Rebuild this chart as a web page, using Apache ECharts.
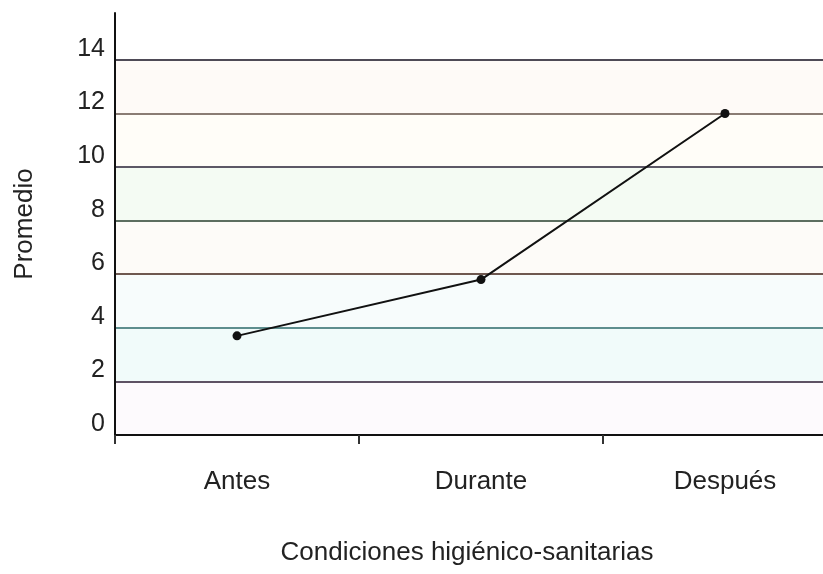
<!DOCTYPE html>
<html><head><meta charset="utf-8">
<script src="https://cdn.jsdelivr.net/npm/echarts@6/dist/echarts.min.js"></script>
<style>html,body{margin:0;padding:0;background:#fff}#c{width:823px;height:574px}</style>
</head><body><div id="c"></div>
<script>
const categories = ['Antes', 'Durante', 'Después'];
const promedio = [3.7, 5.8, 12.0];
const yTicks = [0, 2, 4, 6, 8, 10, 12, 14];
const xTitle = 'Condiciones higiénico-sanitarias';
const yTitle = 'Promedio';

const chart = echarts.init(document.getElementById('c'));
const font = 'Liberation Sans, Arial, sans-serif';
chart.setOption({
  backgroundColor: '#ffffff',
  animation: false,
  grid: { left: 115, width: 732, top: 13, bottom: 139, containLabel: false, outerBoundsMode: 'none' },
  xAxis: {
    type: 'category',
    data: categories,
    boundaryGap: true,
    name: xTitle,
    nameLocation: 'middle',
    nameGap: 105,
    nameTextStyle: { fontFamily: font, fontSize: 26, color: '#222', padding: [0, 28, 0, 0] },
    axisLine: { lineStyle: { color: '#111', width: 2 } },
    axisTick: { show: true, length: 9, lineStyle: { color: '#333', width: 2 } },
    axisLabel: { margin: 34, fontFamily: font, fontSize: 26, color: '#222' },
    splitLine: { show: false }
  },
  yAxis: {
    type: 'value',
    min: 0,
    max: 15.75,
    interval: 2,
    name: yTitle,
    nameLocation: 'middle',
    nameGap: 77,
    nameRotate: 90,
    nameTextStyle: { fontFamily: font, fontSize: 26, color: '#222' },
    axisLine: { show: true, lineStyle: { color: '#111', width: 2 } },
    axisTick: { show: false },
    axisLabel: {
      margin: 10, fontFamily: font, fontSize: 25, color: '#222',
      showMaxLabel: false,
      verticalAlign: 'bottom',
      lineHeight: 22,
      formatter: v => (yTicks.indexOf(v) >= 0 ? String(v) : '')
    },
    splitLine: {
      show: true,
      showMinLine: false,
      showMaxLine: false,
      lineStyle: {
        width: 2,
        color: ['#5e5264', '#5e8e8e', '#6e5850', '#5c6e60', '#5c5866', '#8a7c74', '#4e4a56']
      }
    },
    splitArea: {
      show: true,
      areaStyle: {
        color: ['#fdfafd', '#f1fbfa', '#f7fcfc', '#fdfbf8', '#f4fbf3', '#fffdf8', '#fefaf7', '#ffffff']
      }
    }
  },
  series: [{
    type: 'line',
    data: promedio,
    symbol: 'circle',
    symbolSize: 9,
    lineStyle: { color: '#111', width: 2 },
    itemStyle: { color: '#111' }
  }]
});
</script>
</body></html>
